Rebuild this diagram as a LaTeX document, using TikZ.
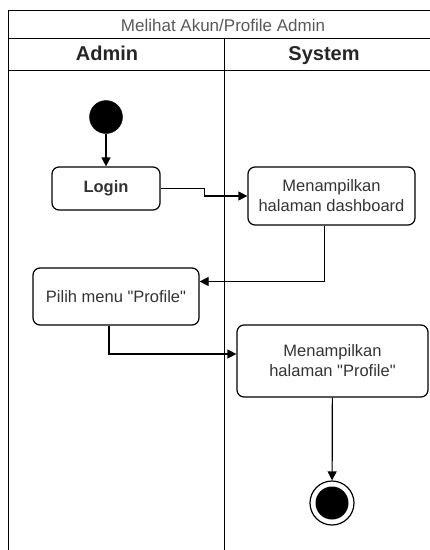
\documentclass[tikz,border=0pt]{standalone}
\usepackage{fontspec}
\setmainfont{Liberation Sans}
\usetikzlibrary{arrows.meta,positioning}
\begin{document}
\begin{tikzpicture}[x=1pt,y=-1pt,
    lane/.style={line width=1pt},
    head/.style={anchor=base, font=\bfseries\fontsize{20}{23}\selectfont, text=black!85},
    act/.style={draw, rounded corners=7pt, line width=1.2pt, align=center, text=black!80, font=\fontsize{16.5}{20}\selectfont},
    flow/.style={-{Triangle[length=9pt,width=9pt]}, line width=1.2pt}]
    \useasboundingbox (0,0) rectangle (430,550);
    % swimlanes
    \draw[lane] (430,10) -- (8,10) -- (8,550);
    \draw[lane] (8,38) -- (430,38);
    \draw[lane] (8,70) -- (430,70);
    \draw[lane] (224,38) -- (224,550);
    \node[anchor=base, text=black!65, font=\fontsize{17}{20}\selectfont] (title) at (223,31) {Melihat Akun/Profile Admin};
    \node[head] (admin) at (107,60.5) {Admin};
    \node[head] (system) at (324,60.5) {System};

    \node[draw, fill=black, circle, minimum size=33pt, inner sep=0pt] (start) at (106,117) {};
    \node[act, minimum width=108pt, minimum height=43pt, font=\bfseries\fontsize{16.5}{20}\selectfont] (login) at (106,188.5) {Login};
    \node[act, minimum width=167pt, minimum height=58pt] (dash) at (331.5,196) {Menampilkan\\halaman dashboard};
    \node[act, minimum width=166pt, minimum height=57pt] (pilih) at (116,296.5) {Pilih menu \textquotedbl Profile\textquotedbl};
    \node[act, minimum width=191pt, minimum height=72pt] (prof) at (332.5,361) {Menampilkan\\halaman \textquotedbl Profile\textquotedbl};
    \node[draw, circle, line width=1.2pt, minimum size=44pt, inner sep=0pt] (end) at (332,503) {};
    \node[fill=black, circle, minimum size=33pt, inner sep=0pt] (endDot) at (end) {};

    \draw[flow] (start) -- (login);
    \draw[flow] (login.east) -- ++(44,0) |- (dash.west);
    \draw[flow] ([xshift=-7pt]dash.south) |- ([yshift=15pt]pilih.east);
    \draw[flow] ([xshift=-7pt]pilih.south) |- ([yshift=7pt]prof.west);
    \draw[flow] (prof) -- (end);
\end{tikzpicture}
\end{document}
